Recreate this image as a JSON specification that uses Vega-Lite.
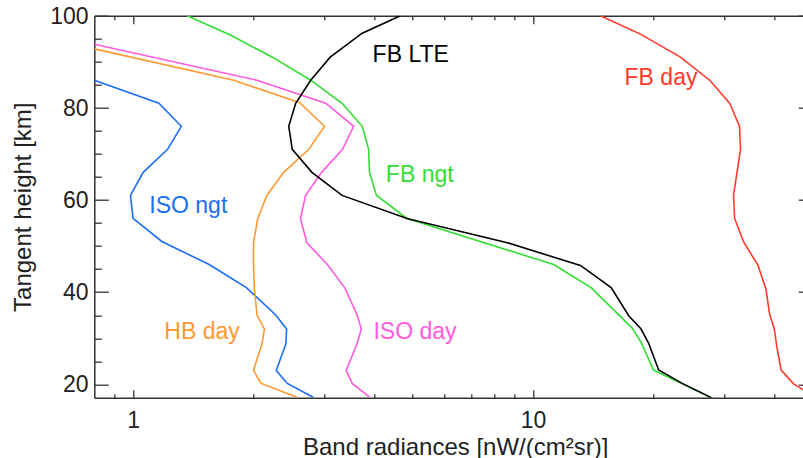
{
  "$schema": "https://vega.github.io/schema/vega-lite/v6.json",
  "width": 708.7,
  "height": 382,
  "autosize": "none",
  "padding": {"left": 94.3, "top": 15.7, "right": 0, "bottom": 60.3},
  "background": "white",
  "config": {
    "view": {"stroke": null},
    "font": "Liberation Sans",
    "axis": {
      "grid": false,
      "domainColor": "#333333",
      "domainWidth": 1.5,
      "tickColor": "#333333",
      "tickWidth": 1.3,
      "labelColor": "#222222",
      "titleColor": "#222222",
      "labelFont": "Liberation Sans",
      "titleFont": "Liberation Sans",
      "labelFontSize": 23,
      "titleFontSize": 24,
      "titleFontWeight": "normal",
      "labelFlush": false,
      "labelOverlap": false
    }
  },
  "datasets": {
    "profiles": [
      {"band": "ISO ngt", "rad": 0.8, "km": 86},
      {"band": "ISO ngt", "rad": 1.16, "km": 81},
      {"band": "ISO ngt", "rad": 1.32, "km": 76},
      {"band": "ISO ngt", "rad": 1.22, "km": 71},
      {"band": "ISO ngt", "rad": 1.06, "km": 66},
      {"band": "ISO ngt", "rad": 0.985, "km": 61},
      {"band": "ISO ngt", "rad": 1.0, "km": 56},
      {"band": "ISO ngt", "rad": 1.18, "km": 51},
      {"band": "ISO ngt", "rad": 1.55, "km": 46},
      {"band": "ISO ngt", "rad": 1.92, "km": 41},
      {"band": "ISO ngt", "rad": 2.27, "km": 35.1},
      {"band": "ISO ngt", "rad": 2.42, "km": 32},
      {"band": "ISO ngt", "rad": 2.41, "km": 28.8},
      {"band": "ISO ngt", "rad": 2.28, "km": 23},
      {"band": "ISO ngt", "rad": 2.43, "km": 20.2},
      {"band": "ISO ngt", "rad": 2.82, "km": 17.2},

      {"band": "HB day", "rad": 0.8, "km": 92.8},
      {"band": "HB day", "rad": 1.785, "km": 86},
      {"band": "HB day", "rad": 2.61, "km": 81.1},
      {"band": "HB day", "rad": 3.01, "km": 76},
      {"band": "HB day", "rad": 2.75, "km": 71},
      {"band": "HB day", "rad": 2.38, "km": 66},
      {"band": "HB day", "rad": 2.16, "km": 61},
      {"band": "HB day", "rad": 2.05, "km": 56},
      {"band": "HB day", "rad": 2.0, "km": 50.7},
      {"band": "HB day", "rad": 2.0, "km": 46},
      {"band": "HB day", "rad": 2.01, "km": 41},
      {"band": "HB day", "rad": 2.04, "km": 35.1},
      {"band": "HB day", "rad": 2.13, "km": 32},
      {"band": "HB day", "rad": 2.1, "km": 28.8},
      {"band": "HB day", "rad": 2.0, "km": 23},
      {"band": "HB day", "rad": 2.09, "km": 20.2},
      {"band": "HB day", "rad": 2.57, "km": 17.2},

      {"band": "ISO day", "rad": 0.8, "km": 93.8},
      {"band": "ISO day", "rad": 2.04, "km": 86},
      {"band": "ISO day", "rad": 3.03, "km": 81},
      {"band": "ISO day", "rad": 3.56, "km": 76},
      {"band": "ISO day", "rad": 3.34, "km": 71},
      {"band": "ISO day", "rad": 2.96, "km": 66},
      {"band": "ISO day", "rad": 2.7, "km": 61},
      {"band": "ISO day", "rad": 2.62, "km": 56},
      {"band": "ISO day", "rad": 2.72, "km": 50.7},
      {"band": "ISO day", "rad": 3.06, "km": 46},
      {"band": "ISO day", "rad": 3.38, "km": 41},
      {"band": "ISO day", "rad": 3.63, "km": 35.1},
      {"band": "ISO day", "rad": 3.72, "km": 32},
      {"band": "ISO day", "rad": 3.63, "km": 28.8},
      {"band": "ISO day", "rad": 3.41, "km": 23},
      {"band": "ISO day", "rad": 3.53, "km": 20.2},
      {"band": "ISO day", "rad": 3.9, "km": 17.2},

      {"band": "FB ngt", "rad": 1.365, "km": 100},
      {"band": "FB ngt", "rad": 1.75, "km": 95.8},
      {"band": "FB ngt", "rad": 2.23, "km": 91},
      {"band": "FB ngt", "rad": 2.78, "km": 86},
      {"band": "FB ngt", "rad": 3.33, "km": 81},
      {"band": "FB ngt", "rad": 3.74, "km": 76},
      {"band": "FB ngt", "rad": 3.88, "km": 71},
      {"band": "FB ngt", "rad": 3.9, "km": 66},
      {"band": "FB ngt", "rad": 4.06, "km": 61},
      {"band": "FB ngt", "rad": 4.84, "km": 56},
      {"band": "FB ngt", "rad": 11.26, "km": 46},
      {"band": "FB ngt", "rad": 13.96, "km": 41},
      {"band": "FB ngt", "rad": 17.69, "km": 32.2},
      {"band": "FB ngt", "rad": 18.62, "km": 29.1},
      {"band": "FB ngt", "rad": 20.0, "km": 23.1},
      {"band": "FB ngt", "rad": 23.6, "km": 20.1},
      {"band": "FB ngt", "rad": 27.9, "km": 17.1},

      {"band": "FB LTE", "rad": 4.66, "km": 100},
      {"band": "FB LTE", "rad": 3.74, "km": 96.2},
      {"band": "FB LTE", "rad": 3.11, "km": 91},
      {"band": "FB LTE", "rad": 2.78, "km": 86},
      {"band": "FB LTE", "rad": 2.55, "km": 81},
      {"band": "FB LTE", "rad": 2.45, "km": 76},
      {"band": "FB LTE", "rad": 2.5, "km": 71},
      {"band": "FB LTE", "rad": 2.8, "km": 66},
      {"band": "FB LTE", "rad": 3.33, "km": 61},
      {"band": "FB LTE", "rad": 4.84, "km": 56},
      {"band": "FB LTE", "rad": 8.57, "km": 50.8},
      {"band": "FB LTE", "rad": 13.13, "km": 45.8},
      {"band": "FB LTE", "rad": 15.67, "km": 41},
      {"band": "FB LTE", "rad": 17.34, "km": 34.9},
      {"band": "FB LTE", "rad": 18.62, "km": 32},
      {"band": "FB LTE", "rad": 19.45, "km": 28.9},
      {"band": "FB LTE", "rad": 20.6, "km": 23.1},
      {"band": "FB LTE", "rad": 23.6, "km": 20.2},
      {"band": "FB LTE", "rad": 27.9, "km": 17.1},

      {"band": "FB day", "rad": 14.73, "km": 100},
      {"band": "FB day", "rad": 18.55, "km": 96},
      {"band": "FB day", "rad": 23.35, "km": 91},
      {"band": "FB day", "rad": 27.64, "km": 86},
      {"band": "FB day", "rad": 31.0, "km": 81},
      {"band": "FB day", "rad": 32.8, "km": 76},
      {"band": "FB day", "rad": 33.0, "km": 71},
      {"band": "FB day", "rad": 31.7, "km": 61},
      {"band": "FB day", "rad": 31.9, "km": 56},
      {"band": "FB day", "rad": 33.6, "km": 50.9},
      {"band": "FB day", "rad": 36.5, "km": 45.8},
      {"band": "FB day", "rad": 38.2, "km": 40.7},
      {"band": "FB day", "rad": 39.0, "km": 35.3},
      {"band": "FB day", "rad": 40.1, "km": 31.9},
      {"band": "FB day", "rad": 40.7, "km": 28},
      {"band": "FB day", "rad": 41.7, "km": 23.1},
      {"band": "FB day", "rad": 44.8, "km": 20.1},
      {"band": "FB day", "rad": 47.4, "km": 18.8}
    ],
    "names": [
      {"band": "FB LTE", "rad": 3.97, "km": 89.87},
      {"band": "FB ngt", "rad": 4.285, "km": 63.9},
      {"band": "FB day", "rad": 16.93, "km": 84.93},
      {"band": "ISO ngt", "rad": 1.098, "km": 57.1},
      {"band": "HB day", "rad": 1.197, "km": 29.87},
      {"band": "ISO day", "rad": 3.99, "km": 29.87}
    ]
  },
  "layer": [
    {
      "data": {"name": "profiles"},
      "mark": {"type": "line", "strokeWidth": 1.6, "clip": true},
      "encoding": {
        "x": {
          "field": "rad", "type": "quantitative",
          "scale": {"type": "log", "domain": [0.8, 50], "range": [0, 718.4], "nice": false},
          "axis": {
            "orient": "bottom", "values": [1, 10], "format": "~g",
            "tickSize": -8, "labelPadding": 38, "labelBaseline": "alphabetic",
            "title": "Band radiances [nW/(cm²sr)]",
            "titleX": 360.9, "titleY": 56.3, "titleBaseline": "alphabetic", "titleAlign": "center"
          }
        },
        "y": {
          "field": "km", "type": "quantitative",
          "scale": {"domain": [17.1, 100], "nice": false, "zero": false},
          "axis": {
            "orient": "left", "values": [20, 40, 60, 80, 100],
            "tickSize": -14, "labelPadding": 20.3, "labelAlign": "right",
            "labelBaseline": "alphabetic", "labelOffset": 7.5,
            "title": "Tangent height [km]",
            "titleX": -64.3, "titleY": 191, "titleAngle": -90,
            "titleBaseline": "alphabetic", "titleAlign": "center"
          }
        },
        "color": {
          "field": "band", "type": "nominal", "legend": null,
          "scale": {
            "domain": ["ISO ngt", "HB day", "ISO day", "FB ngt", "FB LTE", "FB day"],
            "range": ["#1a6ef5", "#ff9933", "#ff5ae0", "#33dd33", "#000000", "#ff3a2a"]
          }
        },
        "order": {"field": "km", "type": "quantitative"}
      }
    },
    {
      "data": {"name": "names"},
      "mark": {"type": "text", "align": "left", "baseline": "alphabetic", "fontSize": 23, "font": "Liberation Sans"},
      "encoding": {
        "x": {
          "field": "rad", "type": "quantitative",
          "scale": {"type": "log", "domain": [0.8, 50], "range": [0, 718.4], "nice": false},
          "axis": {
            "orient": "bottom", "values": [0.9, 2, 3, 4, 5, 6, 7, 8, 9, 20, 30, 40],
            "tickSize": -4, "labels": false, "domain": false, "title": null
          }
        },
        "y": {
          "field": "km", "type": "quantitative",
          "scale": {"domain": [17.1, 100], "nice": false, "zero": false},
          "axis": {
            "orient": "left", "values": [25, 30, 35, 45, 50, 55, 65, 70, 75, 85, 90, 95],
            "tickSize": -7, "labels": false, "domain": false, "title": null
          }
        },
        "text": {"field": "band"},
        "color": {"field": "band", "type": "nominal", "legend": null}
      }
    },
    {
      "data": {"name": "profiles"},
      "mark": {"type": "point", "opacity": 0},
      "encoding": {
        "x": {
          "field": "rad", "type": "quantitative",
          "scale": {"type": "log", "domain": [0.8, 50], "range": [0, 718.4], "nice": false},
          "axis": {
            "orient": "top", "values": [1, 10],
            "tickSize": -8, "labels": false, "domain": true, "title": null
          }
        },
        "y": {
          "field": "km", "type": "quantitative",
          "scale": {"domain": [17.1, 100], "nice": false, "zero": false},
          "axis": {
            "orient": "right", "values": [20, 40, 60, 80, 100], "offset": 9.3,
            "tickSize": -14, "labels": false, "domain": false, "title": null
          }
        }
      }
    },
    {
      "data": {"name": "profiles"},
      "mark": {"type": "point", "opacity": 0},
      "encoding": {
        "x": {
          "field": "rad", "type": "quantitative",
          "scale": {"type": "log", "domain": [0.8, 50], "range": [0, 718.4], "nice": false},
          "axis": {
            "orient": "top", "values": [0.9, 2, 3, 4, 5, 6, 7, 8, 9, 20, 30, 40],
            "tickSize": -4, "labels": false, "domain": false, "title": null
          }
        },
        "y": {
          "field": "km", "type": "quantitative",
          "scale": {"domain": [17.1, 100], "nice": false, "zero": false},
          "axis": {
            "orient": "right", "values": [25, 30, 35, 45, 50, 55, 65, 70, 75, 85, 90, 95], "offset": 9.3,
            "tickSize": -7, "labels": false, "domain": false, "title": null
          }
        }
      }
    }
  ],
  "resolve": {"axis": {"x": "independent", "y": "independent"}}
}
